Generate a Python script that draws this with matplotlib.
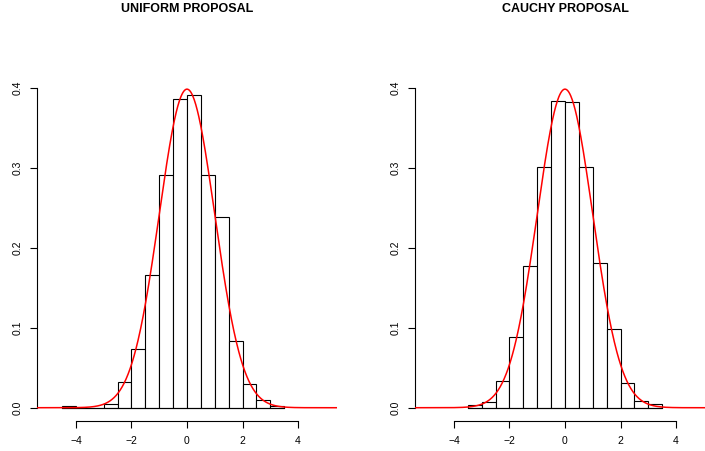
import numpy as np
import matplotlib
matplotlib.use("Agg")
import matplotlib.pyplot as plt

plt.rcParams['font.family'] = ['Liberation Sans', 'DejaVu Sans']

# ---- data ----
titles = ["UNIFORM PROPOSAL", "CAUCHY PROPOSAL"]
bin_width = 0.5
uniform_start = -4.5
uniform_density = [0.0017, 0.0, 0.0, 0.005, 0.032, 0.073, 0.166, 0.291,
                   0.386, 0.392, 0.291, 0.239, 0.084, 0.030, 0.0096, 0.0017]
cauchy_start = -3.5
cauchy_density = [0.003, 0.0075, 0.034, 0.0885, 0.177, 0.301, 0.384,
                  0.383, 0.301, 0.181, 0.098, 0.0305, 0.009, 0.0046]
x_ticks = [-4, -2, 0, 2, 4]
y_ticks = [0.0, 0.1, 0.2, 0.3, 0.4]
y_ticklabels = ["0.0", "0.1", "0.2", "0.3", "0.4"]
normal_mean = 0.0
normal_sd = 1.0

W, H = 705, 451
fig = plt.figure(figsize=(W / 100, H / 100), dpi=100)

xlim = (-5.4, 5.4)
ylim = (-0.016, 0.416)
panel_left_px = [37, 415]
panel_w_px = 300
bottom_px = 420.5
top_px = 75.5

series = [(uniform_start, uniform_density), (cauchy_start, cauchy_density)]

for i, (start, dens) in enumerate(series):
    ax = fig.add_axes([panel_left_px[i] / W, (H - bottom_px) / H,
                       panel_w_px / W, (bottom_px - top_px) / H])
    ax.set_xlim(*xlim)
    ax.set_ylim(*ylim)
    lefts = start + bin_width * np.arange(len(dens))
    ax.bar(lefts, dens, width=bin_width, align='edge', facecolor='white',
           edgecolor='black', linewidth=0.8, zorder=2)
    # baseline under all bins
    ax.plot([lefts[0], lefts[-1] + bin_width], [0, 0], color='black',
            linewidth=0.8, zorder=2)
    xs = np.linspace(xlim[0], xlim[1], 600)
    ys = np.exp(-0.5 * ((xs - normal_mean) / normal_sd) ** 2) / (normal_sd * np.sqrt(2 * np.pi))
    ax.plot(xs, ys, color='#FF0000', linewidth=1.1, zorder=3)

    for s in ['top', 'right']:
        ax.spines[s].set_visible(False)
    ax.spines['left'].set_bounds(0, 0.4)
    ax.spines['bottom'].set_bounds(-4, 4)
    ax.spines['left'].set_linewidth(0.8)
    ax.spines['bottom'].set_linewidth(0.8)
    ax.set_xticks(x_ticks)
    ax.set_xticklabels([str(t).replace('-', '\u2212') for t in x_ticks])
    ax.set_yticks(y_ticks)
    ax.set_yticklabels(y_ticklabels, rotation=90, va='center')
    ax.tick_params(axis='x', length=5, width=0.8, pad=6.0, labelsize=7.5)
    ax.tick_params(axis='y', length=5, width=0.8, pad=5.0, labelsize=7.5)
    ax.patch.set_visible(False)

    cx = (panel_left_px[i] + panel_w_px / 2) / W
    fig.text(cx, 1 - 9 / H, titles[i], ha='center', va='center',
             fontsize=9, fontweight='bold')

fig.savefig("out.png", dpi=100)
